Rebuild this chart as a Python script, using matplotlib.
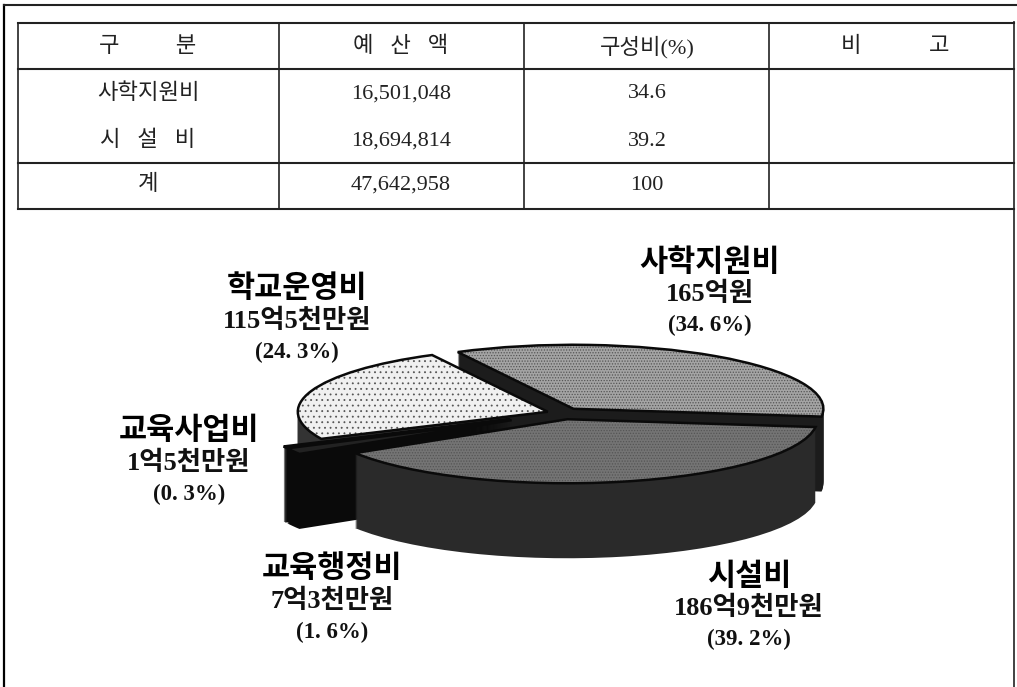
import matplotlib
matplotlib.use("Agg")
import matplotlib.pyplot as plt

plt.rcParams['font.family'] = ['Liberation Serif', 'Noto Sans CJK KR']
plt.rcParams['hatch.linewidth'] = 0.6

# table
col_heads = ["구          분", "예   산   액", "구성비(%)", "비            고"]
row_names = ["사학지원비", "시   설   비", "계"]
row_money = ["16,501,048", "18,694,814", "47,642,958"]
row_share = ["34.6", "39.2", "100"]

# pie, in the order it goes round from the right edge
names = ["사학지원비", "학교운영비", "교육사업비", "교육행정비", "시설비"]
amounts = ["165억원", "115억5천만원", "1억5천만원", "7억3천만원", "186억9천만원"]
shares = [34.6, 24.3, 0.3, 1.6, 39.2]
share_text = ["(34. 6%)", "(24. 3%)", "(0. 3%)", "(1. 6%)", "(39. 2%)"]
explode = [0.08, 0.06, 0.23, 0.23, 0.1]
top_colors = ["#a4a4a4", "#f0f0f0", "#d8d8d8", "#222222", "#747474"]
top_hatch = ["......", "...", "", "", "......"]
hatch_edge = "#555555"
side_colors = ["#1c1c1c", "#333333", "#0a0a0a", "#0a0a0a", "#2a2a2a"]
side_order = [2, 1, 4, 4, 5]
label_x = [710, 297, 189, 332, 749]
label_y = [263, 290, 432, 570, 577]

W, H = 1017, 687
fig = plt.figure(figsize=(W / 100, H / 100), dpi=100)
ax = fig.add_axes([0, 0, 1, 1])
ax.set_xlim(0, W)
ax.set_ylim(H, 0)
ax.axis("off")

# outer frame and table lines
ax.plot([4, 4], [687, 5], color="black", lw=1.6)
ax.plot([4, 1017], [5, 5], color="#222222", lw=1.5)
ax.plot([1014, 1014], [22, 687], color="#333333", lw=1.3)
col_x = [18, 279, 524, 769, 1014]
row_y = [23, 69, 163, 209]
for yy in row_y:
    ax.plot([18, 1014], [yy, yy], color="#222222", lw=1.5)
for xx in col_x[:4]:
    ax.plot([xx, xx], [23, 209], color="#222222", lw=1.2)

col_mid = [148, 401, 647, 895]
for i in range(4):
    ax.text(col_mid[i], 47, col_heads[i], ha="center", va="center", fontsize=16, color="#222222")
text_y = [94, 141, 185]
for i in range(3):
    ax.text(col_mid[0], text_y[i], row_names[i], ha="center", va="center", fontsize=16, color="#222222")
    ax.text(col_mid[1], text_y[i], row_money[i], ha="center", va="center", fontsize=16, color="#222222")
    ax.text(col_mid[2], text_y[i], row_share[i], ha="center", va="center", fontsize=16, color="#222222")

# pie sits in its own squashed axes, 1 unit = 250 px across and 64 px down
cx, cy, rx, ry, depth = 562, 413, 250, 64, 75
pie_w, pie_h = 1.3 * rx * 2, 4.0 * ry * 2
pie_ax = fig.add_axes([(cx - pie_w / 2) / W, 1 - (cy + pie_h / 2) / H, pie_w / W, pie_h / H])
pie_ax.patch.set_alpha(0)


def draw_layer(dy, colors, hatches, edge, lw, base_z):
    wedges, _ = pie_ax.pie(shares, explode=explode, startangle=-7, center=(0, dy), colors=colors,
                           hatch=hatches, wedgeprops=dict(edgecolor=edge, linewidth=lw))
    for k, w in enumerate(wedges):
        w.set_zorder(base_z[k])
    return wedges


for d in range(depth, 0, -1):
    draw_layer(-d / ry, side_colors, None, "none", 0, side_order)
draw_layer(0, top_colors, top_hatch, hatch_edge, 0, [10, 10, 6, 6, 10])
# outline goes on a second pass so it can be darker than the dots
outline = draw_layer(0, top_colors, None, "#0a0a0a", 1.8, [11, 11, 7, 7, 11])
for w in outline:
    w.set_facecolor("none")
pie_ax.set_aspect("auto")
pie_ax.set_xlim(-1.3, 1.3)
pie_ax.set_ylim(-4, 4)
pie_ax.axis("off")

for i in range(5):
    ax.text(label_x[i], label_y[i], names[i], ha="center", va="center", fontsize=22, fontweight="bold", color="black")
    ax.text(label_x[i], label_y[i] + 31, amounts[i], ha="center", va="center", fontsize=19, fontweight="bold", color="#111111")
    ax.text(label_x[i], label_y[i] + 62, share_text[i], ha="center", va="center", fontsize=16.5, fontweight="bold", color="#111111")

fig.savefig("out.png", dpi=100)
